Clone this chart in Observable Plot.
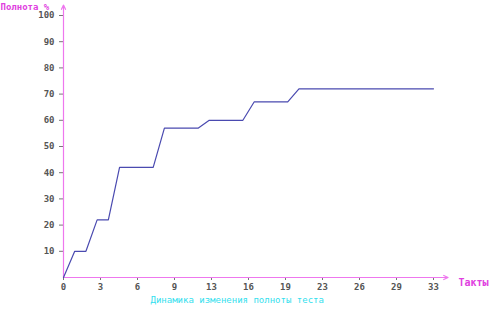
<!DOCTYPE html>
<html>
<head>
<meta charset="utf-8">
<script src="https://cdn.jsdelivr.net/npm/d3@7"></script>
<script src="https://cdn.jsdelivr.net/npm/@observablehq/plot@0.6"></script>
<style>
  html, body { margin: 0; padding: 0; background: #fff; }
  #chart svg { display: block; }
</style>
</head>
<body>
<div id="chart"></div>
<script>
// Data
const taktsX = [0, 1, 2, 3, 4, 5, 8, 9, 12, 13, 16, 17, 20, 21, 33];
const fullnessY = [0, 10, 10, 22, 22, 42, 42, 57, 57, 60, 60, 67, 67, 72, 72];
const xTickValues = [0, 3.3, 6.6, 9.9, 13.2, 16.5, 19.8, 23.1, 26.4, 29.7, 33];
const xTickLabels = ["0", "3", "6", "9", "13", "16", "19", "23", "26", "29", "33"];
const yTickValues = [10, 20, 30, 40, 50, 60, 70, 80, 90, 100];
const yAxisTitle = "Полнота %";
const xAxisTitle = "Такты";
const chartTitle = "Динамика изменения полноты теста";

const points = taktsX.map((x, i) => ({x, y: fullnessY[i]}));
const axisColor = "#ee77ee";
const tickFont = "DejaVu Sans Mono, monospace";

const chart = Plot.plot({
  width: 494,
  height: 314,
  marginLeft: 63,
  marginRight: 61,
  marginTop: 15,
  marginBottom: 37,
  style: {background: "#fff", fontFamily: tickFont},
  x: {domain: [0, 33]},
  y: {domain: [0, 100]},
  marks: [
    Plot.axisY({
      ticks: yTickValues, tickSize: 4, tickPadding: 5,
      stroke: "#777", color: "#555", fontSize: 9, fontWeight: "bold", label: null
    }),
    Plot.axisX({
      ticks: xTickValues, tickFormat: (d, i) => xTickLabels[i],
      tickSize: 3, tickPadding: 3, stroke: "#777", color: "#555",
      fontSize: 9, fontWeight: "bold", label: null
    }),
    Plot.arrow([{x1: 0, y1: 0, x2: 0, y2: 104}], {
      x1: "x1", y1: "y1", x2: "x2", y2: "y2",
      stroke: axisColor, strokeWidth: 1.2, headLength: 6, headAngle: 50, clip: false
    }),
    Plot.arrow([{x1: 0, y1: 0, x2: 34.3, y2: 0}], {
      x1: "x1", y1: "y1", x2: "x2", y2: "y2",
      stroke: axisColor, strokeWidth: 1.2, headLength: 6, headAngle: 50, clip: false
    }),
    Plot.line(points, {x: "x", y: "y", stroke: "#4a4ab0", strokeWidth: 1.2}),
    Plot.text([yAxisTitle], {
      frameAnchor: "top-left", dx: -63, dy: -12, textAnchor: "start",
      fill: "#e040e0", fontSize: 9, fontWeight: "bold", fontFamily: tickFont
    }),
    Plot.text([xAxisTitle], {
      frameAnchor: "bottom-right", dx: 25, dy: 8, textAnchor: "start",
      fill: "#e040e0", fontSize: 10, fontWeight: "bold", fontFamily: tickFont
    }),
    Plot.text([chartTitle], {
      frameAnchor: "bottom-left", dx: 87, dy: 25, textAnchor: "start",
      fill: "#33e0ee", fontSize: 9, fontFamily: tickFont
    })
  ]
});
document.getElementById("chart").appendChild(chart);
</script>
</body>
</html>
